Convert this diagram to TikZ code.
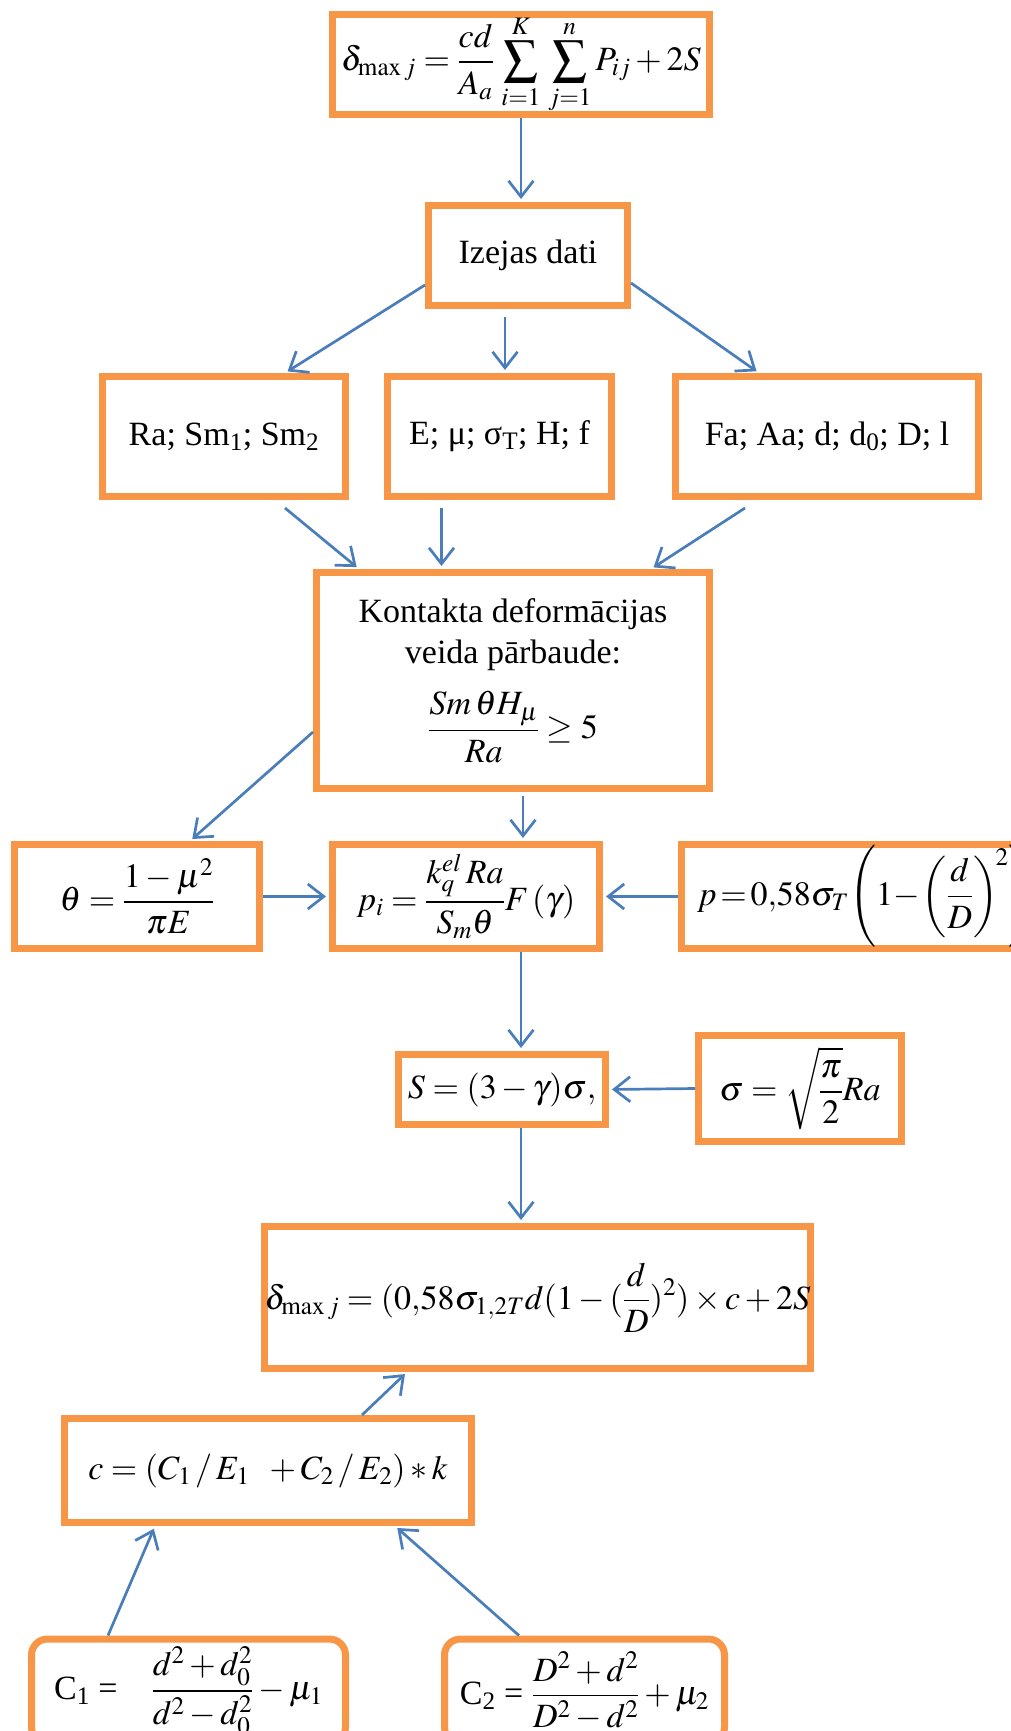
\documentclass[tikz,border=0pt]{standalone}
\usepackage{mathptmx}
\usepackage{fontspec}
\setmainfont{Liberation Serif}
\usetikzlibrary{arrows.meta,calc}
\definecolor{obox}{HTML}{F79646}
\definecolor{barr}{HTML}{4A7EBB}
\tikzset{
  box/.style={draw=obox, line width=7pt, fill=white, inner sep=0pt, align=center,
    font=\fontsize{34}{41}\selectfont},
  rbox/.style={box, rounded corners=16pt},
  arr/.style={draw=barr, line width=2.7pt, shorten >=3pt,
    -{Straight Barb[length=16pt,width=25pt]}}
}
\begin{document}
\begin{tikzpicture}[x=1pt,y=-1pt]
\useasboundingbox (0,0) rectangle (1011,1731);
% nodes
\node[box, minimum width=377pt, minimum height=100pt] (top) at (521,64.5)
  {$\displaystyle \delta_{\max j} = \frac{cd}{A_a}\,\sum_{i=1}^{K}\,\sum_{j=1}^{n}P_{ij}+2S$};
\node[box, minimum width=199pt, minimum height=100pt] (iz) at (528,255.5) {Izejas dati};
\node[box, minimum width=243pt, minimum height=120pt] (ra) at (224,436.5)
  {Ra; Sm\textsubscript{1}; Sm\textsubscript{2}};
\node[box, minimum width=224pt, minimum height=120pt] (e) at (499.5,436.5)
  {E; μ; σ\textsubscript{T}; H; f};
\node[box, minimum width=303pt, minimum height=120pt] (fa) at (827,436.5)
  {Fa; Aa; d; d\textsubscript{0}; D; l};
\node[box, minimum width=393pt, minimum height=216pt] (k) at (513,680.5)
  {Kontakta deformācijas\\veida pārbaude:\\[20pt]
   $\displaystyle \frac{Sm\,\theta H_{\mu}}{Ra}\geq 5$};
\node[box, minimum width=245pt, minimum height=104pt] (th) at (137,896.5)
  {$\displaystyle \theta=\frac{1-\mu^2}{\pi E}$};
\node[box, minimum width=267pt, minimum height=104pt] (pi) at (466,896.5)
  {$\displaystyle p_i=\frac{k_q^{el}\,Ra}{S_m\theta}F\,(\gamma)$};
\node[box, minimum width=351pt, minimum height=104pt] (pp) at (857,896.5)
  {\makebox[320pt][l]{$\displaystyle p\!=\!0{,}58\sigma_T\!\left(1\!-\!\left(\frac{d}{D}\right)^{\!2}\right)$}};
\node[box, minimum width=207pt, minimum height=70pt] (s) at (502,1089.5)
  {$S=(3-\gamma)\sigma,$};
\node[box, minimum width=203pt, minimum height=106pt] (sg) at (800,1088.5)
  {$\displaystyle \sigma=\sqrt{\frac{\pi}{2}}Ra$};
\node[box, minimum width=538pt, minimum height=142pt] (d2) at (537.5,1297.5)
  {$\displaystyle \delta_{\max j}=(0{,}58\sigma_{1,2T}d(1-(\frac{d}{D})^{2})\times c+2S$};
\node[box, minimum width=407pt, minimum height=104pt] (c) at (268,1470.5)
  {$c=(C_1\,/\,E_1\;\;+C_2\,/\,E_2)*k$};
\node[rbox, minimum width=314pt, minimum height=104pt] (c1) at (188.5,1691)
  {C\textsubscript{1} =\quad $\displaystyle \frac{d^2+d_0^2}{d^2-d_0^2}-\mu_1$};
\node[rbox, minimum width=280pt, minimum height=104pt] (c2) at (584.5,1691)
  {C\textsubscript{2} = $\displaystyle \frac{D^2+d^2}{D^2-d^2}+\mu_2$};
% connectors
\draw[arr] (top.south) -- ($(iz.north)+(-7,0)$);
\draw[arr] ($(iz.south west)+(0,-24)$) -- ($(ra.north)+(61,0)$);
\draw[arr] ($(iz.south)+(-23,8)$) -- ($(e.north)+(5.5,0)$);
\draw[arr] ($(iz.south east)+(0,-26)$) -- ($(fa.north west)+(87,0)$);
\draw[arr] ($(ra.south)+(61,8)$) -- ($(k.north west)+(46,0)$);
\draw[arr] ($(e.south)+(-58,8)$) -- ($(k.north)+(-71.5,0)$);
\draw[arr] ($(fa.south)+(-82,8)$) -- ($(k.north east)+(-62,0)$);
\draw[arr] ($(k.south west)+(0,-60)$) -- ($(th.north)+(53,0)$);
\draw[arr] ($(k.south)+(10,4)$) -- ($(pi.north)+(57,0)$);
\draw[arr] (th.east) -- (pi.west);
\draw[arr] (pp.west) -- (pi.east);
\draw[arr] ($(pi.south)+(55,0)$) -- ($(s.north)+(19,0)$);
\draw[arr] (sg.west) -- (s.east);
\draw[arr] ($(s.south)+(19,0)$) -- ($(d2.north)+(-16.5,0)$);
\draw[arr] ($(c.north east)+(-113,0)$) -- ($(d2.south west)+(146,0)$);
\draw[arr] ($(c1.north west)+(80,0)$) -- ($(c.south west)+(94,0)$);
\draw[arr] ($(c2.north west)+(78,0)$) -- ($(c.south east)+(-80,0)$);
\end{tikzpicture}
\end{document}
